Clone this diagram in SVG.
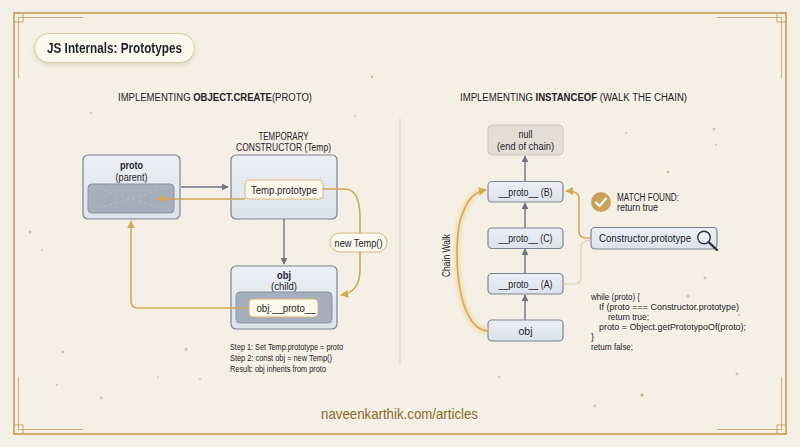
<svg xmlns="http://www.w3.org/2000/svg" width="800" height="447" viewBox="0 0 800 447">
<defs>
<style>
text{font-family:"Liberation Sans",Arial,Helvetica,sans-serif;fill:#1f2329}
.h{font-size:10px;text-anchor:middle}
.b{font-weight:700}
.n{font-size:10.5px;text-anchor:middle}
.s{font-size:8.6px}
.c{font-size:9px}
.node{fill:url(#ng);stroke:#7c8494;stroke-width:1.2}
.inner{fill:#a6aebc;stroke:#8a93a2;stroke-width:1}
.lab{fill:#fcf8ec;stroke:#d6b877;stroke-width:1}
.ga{fill:none;stroke:#6c7482;stroke-width:1.4}
.au{fill:none;stroke:#d3a955;stroke-width:1.6}
.frame{fill:none;stroke:#c7a867}
</style>
<linearGradient id="ng" x1="0" y1="0" x2="0" y2="1"><stop offset="0" stop-color="#eceff5"/><stop offset="1" stop-color="#dde2ea"/></linearGradient>
<marker id="mg" viewBox="0 0 10 10" refX="9" refY="5" markerWidth="7" markerHeight="7" orient="auto-start-reverse" markerUnits="userSpaceOnUse"><path d="M0,0 L10,5 L0,10 Z" fill="#6c7482"/></marker>
<marker id="ma" viewBox="0 0 10 10" refX="9" refY="5" markerWidth="8" markerHeight="8" orient="auto-start-reverse" markerUnits="userSpaceOnUse"><path d="M0,0 L10,5 L0,10 Z" fill="#d3a955"/></marker>
<filter id="sh" x="-20%" y="-40%" width="140%" height="180%"><feDropShadow dx="0" dy="2" stdDeviation="2" flood-color="#8a7a50" flood-opacity="0.25"/></filter>
<filter id="glow" x="-50%" y="-10%" width="200%" height="120%"><feGaussianBlur stdDeviation="2"/></filter>
</defs>
<rect width="800" height="447" fill="#f4f0e5"/>
<g id="frame">
<rect x="14" y="13" width="772" height="421" class="frame" stroke-width="1.8" fill="#f6f2e8"/>
<path d="M18.5,78 V17.5 H83 M18.5,377 V429.5 H83 M781.5,377 V429.5 H717 M781.5,78 V17.5 H717" class="frame" stroke-width="0.9"/>
<rect x="14" y="13" width="9" height="9" class="frame" stroke-width="1"/>
<rect x="14" y="425" width="9" height="9" class="frame" stroke-width="1"/>
<rect x="777" y="425" width="9" height="9" class="frame" stroke-width="1"/>
<rect x="777" y="13" width="9" height="9" class="frame" stroke-width="1"/>
</g>
<g id="dots" fill="#c9c4ba">
<circle cx="372" cy="77" r="1.2" fill="#e0b89a"/><circle cx="355" cy="116" r="1"/><circle cx="91" cy="113" r="1"/><circle cx="63" cy="352" r="1.5"/><circle cx="186" cy="349" r="1.5"/><circle cx="158" cy="377" r="1.2" fill="#e3dcb8"/><circle cx="101" cy="398" r="1.5"/><circle cx="57" cy="385" r="1"/><circle cx="200" cy="379" r="1"/><circle cx="499" cy="377" r="1.3" fill="#e6c2a8"/><circle cx="642" cy="395" r="1.5" fill="#d0b080"/><circle cx="595" cy="406" r="1.5"/><circle cx="737" cy="374" r="1.5"/><circle cx="714" cy="129" r="1.6"/><circle cx="668" cy="172" r="1.3" fill="#d8b690"/><circle cx="705" cy="278" r="1.5"/><circle cx="626" cy="133" r="1"/><circle cx="739" cy="315" r="1"/><circle cx="716" cy="145" r="1"/><circle cx="688" cy="296" r="1.5"/><circle cx="752" cy="240" r="1" fill="#e6d4b0"/><circle cx="42" cy="250" r="1"/><circle cx="30" cy="232" r="1.5"/>
</g>
<g id="title" filter="url(#sh)">
<rect x="34.5" y="33.5" width="160" height="29" rx="14.5" fill="#fbf8ee" stroke="#d8c9a0" stroke-width="1"/>
<text x="114.5" y="52.5" text-anchor="middle" class="b" font-size="14" textLength="135" lengthAdjust="spacingAndGlyphs">JS Internals: Prototypes</text>
</g>
<g id="headings">
<text x="215" y="101" class="h" textLength="194" lengthAdjust="spacingAndGlyphs">IMPLEMENTING <tspan class="b">OBJECT.CREATE</tspan>(PROTO)</text>
<text x="573.5" y="101" class="h" textLength="227" lengthAdjust="spacingAndGlyphs">IMPLEMENTING <tspan class="b">INSTANCEOF</tspan> (WALK THE CHAIN)</text>
</g>
<line x1="400" y1="118" x2="400" y2="365" stroke="#d9d5cc" stroke-width="1"/>
<g id="proto">
<rect x="83" y="155" width="97" height="64" rx="5" class="node"/>
<text x="131.5" y="169" class="n b" textLength="23" lengthAdjust="spacingAndGlyphs">proto</text>
<text x="131.5" y="181" class="n" textLength="32" lengthAdjust="spacingAndGlyphs">(parent)</text>
<rect x="88" y="184" width="86" height="29" rx="4" class="inner"/>
<path d="M92,187 L170,210 M92,210 L170,187" stroke="#c0c6d1" stroke-width="0.6" stroke-dasharray="3 3" fill="none"/>
</g>
<g id="temp">
<text x="283.5" y="140" class="n" font-size="10" textLength="50" lengthAdjust="spacingAndGlyphs">TEMPORARY</text>
<text x="283.5" y="151" class="n" font-size="10" textLength="95" lengthAdjust="spacingAndGlyphs">CONSTRUCTOR (Temp)</text>
<rect x="231" y="155" width="106" height="64" rx="5" class="node"/>
<rect x="245" y="180" width="78" height="19" rx="4" class="lab"/>
<text x="284" y="193.5" class="n" textLength="66" lengthAdjust="spacingAndGlyphs">Temp.prototype</text>
</g>
<g id="newtemp">
<rect x="330" y="233" width="57" height="19" rx="9.5" fill="#fbf8ee" stroke="#d6b877" stroke-width="1"/>
<text x="358.5" y="246.5" class="n" font-size="10" textLength="48" lengthAdjust="spacingAndGlyphs">new Temp()</text>
</g>
<g id="obj">
<rect x="231" y="266" width="106" height="63" rx="5" class="node"/>
<text x="284" y="279" class="n b" textLength="14" lengthAdjust="spacingAndGlyphs">obj</text>
<text x="284" y="290" class="n" textLength="26" lengthAdjust="spacingAndGlyphs">(child)</text>
<rect x="236" y="292" width="96" height="31" rx="4" class="inner"/>
<rect x="249" y="299" width="69" height="18" rx="4" class="lab" stroke-width="0.8"/>
<text x="286" y="312" class="n" textLength="59" lengthAdjust="spacingAndGlyphs">obj.__proto__</text>
</g>
<g id="steps">
<text x="230" y="350" class="s" textLength="113" lengthAdjust="spacingAndGlyphs">Step 1: Set Temp.prototype = proto</text>
<text x="230" y="361" class="s" textLength="102" lengthAdjust="spacingAndGlyphs">Step 2: const obj = new Temp()</text>
<text x="230" y="372" class="s" textLength="96" lengthAdjust="spacingAndGlyphs">Result: obj inherits from proto</text>
</g>
<g id="null">
<rect x="488" y="125" width="75" height="30" rx="4" fill="#e3dfd7" stroke="#cdc7bc" stroke-width="1"/>
<text x="525.5" y="138" class="n" font-size="10" textLength="14" lengthAdjust="spacingAndGlyphs">null</text>
<text x="525.5" y="149.5" class="n" font-size="10" textLength="57" lengthAdjust="spacingAndGlyphs">(end of chain)</text>
</g>
<g id="protoB">
<rect x="488" y="181.5" width="75" height="20.5" rx="4" class="node"/>
<text x="525.5" y="195.5" class="n" font-size="10" textLength="54" lengthAdjust="spacingAndGlyphs">__proto__ (B)</text>
</g>
<g id="protoC">
<rect x="488" y="228" width="75" height="20.5" rx="4" class="node"/>
<text x="525.5" y="242" class="n" font-size="10" textLength="54" lengthAdjust="spacingAndGlyphs">__proto__ (C)</text>
</g>
<g id="protoA">
<rect x="488" y="273.5" width="75" height="20.5" rx="4" class="node"/>
<text x="525.5" y="287.5" class="n" font-size="10" textLength="54" lengthAdjust="spacingAndGlyphs">__proto__ (A)</text>
</g>
<g id="objR">
<rect x="488" y="320" width="75" height="21" rx="4" class="node"/>
<text x="525.5" y="334.5" class="n" font-size="10" textLength="14" lengthAdjust="spacingAndGlyphs">obj</text>
</g>
<text x="449.5" y="255.5" class="n" font-size="10" textLength="43" lengthAdjust="spacingAndGlyphs" transform="rotate(-90 449.5 255.5)">Chain Walk</text>
<g id="match">
<circle cx="601" cy="202" r="10" fill="#c9a25a"/>
<path d="M596,202.5 L599.5,206 L606,198.5" fill="none" stroke="#ffffff" stroke-width="2" stroke-linecap="round" stroke-linejoin="round"/>
<text x="617" y="200.5" font-size="10" textLength="62" lengthAdjust="spacingAndGlyphs">MATCH FOUND:</text>
<text x="617" y="210.5" font-size="10" textLength="41" lengthAdjust="spacingAndGlyphs">return true</text>
</g>
<g id="ctor">
<rect x="591" y="227.5" width="126" height="21.5" rx="4" class="node"/>
<text x="599" y="242" font-size="10.5" textLength="92" lengthAdjust="spacingAndGlyphs">Constructor.prototype</text>
<circle cx="704" cy="237.5" r="6.2" fill="#eef1f6" stroke="#2c3038" stroke-width="1.4"/>
<line x1="708.5" y1="242" x2="717" y2="250" stroke="#2c3038" stroke-width="2.4" stroke-linecap="round"/>
</g>
<g id="code">
<text x="591" y="300" class="c" textLength="49" lengthAdjust="spacingAndGlyphs">while (proto) {</text>
<text x="599" y="310" class="c" textLength="140" lengthAdjust="spacingAndGlyphs">If (proto === Constructor.prototype)</text>
<text x="608" y="320" class="c" textLength="41" lengthAdjust="spacingAndGlyphs">return true;</text>
<text x="599" y="330" class="c" textLength="147" lengthAdjust="spacingAndGlyphs">proto = Object.getPrototypoOf(proto);</text>
<text x="591" y="340" class="c">}</text>
<text x="591" y="350" class="c" textLength="42" lengthAdjust="spacingAndGlyphs">return false;</text>
</g>
<g id="connectors">
<line x1="181" y1="187" x2="228" y2="187" class="ga" marker-end="url(#mg)"/>
<line x1="284" y1="219" x2="284" y2="264" class="ga" marker-end="url(#mg)"/>
<line x1="245" y1="199" x2="157" y2="199" class="au" marker-end="url(#ma)"/>
<path d="M249,308 H138 Q131,308 131,301 V221" class="au" marker-end="url(#ma)"/>
<path d="M323,189 H345 Q359,189 360,215 V233" class="au" stroke-width="1.3"/>
<path d="M360,252 V270 Q360,292 341,295" class="au" stroke-width="1.3" marker-end="url(#ma)"/>
<line x1="525" y1="181" x2="525" y2="156" class="ga" marker-end="url(#mg)"/>
<line x1="525" y1="228" x2="525" y2="203" class="ga" marker-end="url(#mg)"/>
<line x1="525" y1="273" x2="525" y2="249" class="ga" marker-end="url(#mg)"/>
<line x1="525" y1="320" x2="525" y2="295" class="ga" marker-end="url(#mg)"/>
<path d="M488,331 C455,330 452,240 462,215 C468,198 475,192 485,190" fill="none" stroke="#f1d9a4" stroke-width="5" filter="url(#glow)"/>
<path d="M488,331 C455,330 452,240 462,215 C468,198 475,192 486,190" class="au" stroke-width="1.3" marker-end="url(#ma)"/>
<path d="M563,284 H574 Q581,284 581,277 V247 Q581,240 591,240" fill="none" stroke="#dccdb0" stroke-width="1.2"/>
<path d="M591,238 H586 Q579,238 579,231 V198 Q579,191 566,191" class="au" stroke-width="1.8" marker-end="url(#ma)"/>
</g>
<text x="321" y="419" font-size="14.5" textLength="157" lengthAdjust="spacingAndGlyphs" style="fill:#8a6a2a">naveenkarthik.com/articles</text>
</svg>
